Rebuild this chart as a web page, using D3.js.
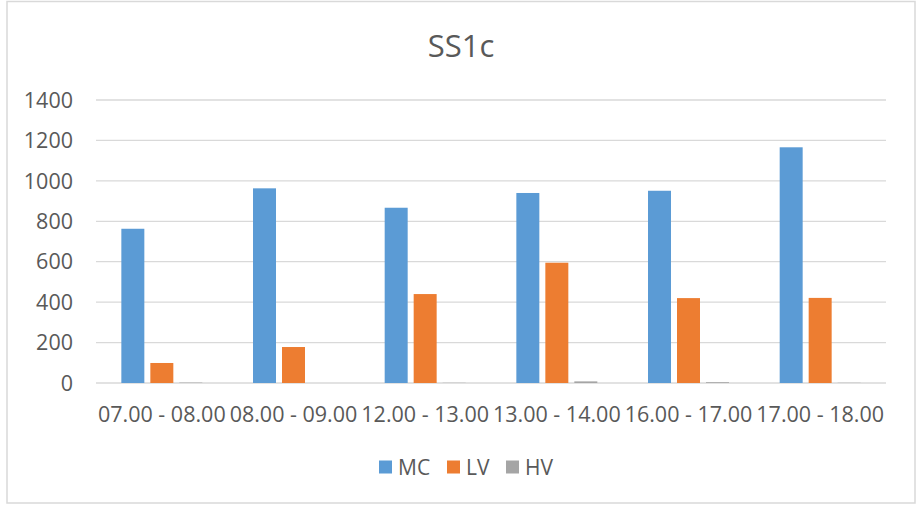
<!DOCTYPE html>
<html>
<head>
<meta charset="utf-8">
<script src="https://cdn.jsdelivr.net/npm/d3@7"></script>
<style>
  body { margin: 0; background: #fff; }
  text { font-family: "Open Sans", sans-serif; fill: #595959; }
</style>
</head>
<body>
<div id="chart"></div>
<script>
var categories = ["07.00 - 08.00", "08.00 - 09.00", "12.00 - 13.00", "13.00 - 14.00", "16.00 - 17.00", "17.00 - 18.00"];
var seriesNames = ["MC", "LV", "HV"];
var mcValues = [763, 963, 867, 940, 951, 1166];
var lvValues = [99, 178, 440, 595, 420, 421];
var hvValues = [2, 0, 1, 8, 4, 1];
var yTicks = [0, 200, 400, 600, 800, 1000, 1200, 1400];
var colors = ["#5b9bd5", "#ed7d31", "#a5a5a5"];

var width = 922, height = 510;
var values = [mcValues, lvValues, hvValues];

var svg = d3.select("#chart").append("svg")
  .attr("width", width)
  .attr("height", height);

// outer chart border
svg.append("rect")
  .attr("x", 7).attr("y", 1.5)
  .attr("width", 908).attr("height", 501.5)
  .attr("fill", "#fff")
  .attr("stroke", "#d9d9d9")
  .attr("stroke-width", 1.5);

var x = d3.scaleBand()
  .domain(categories)
  .range([96, 886])
  .paddingInner(0.385)
  .paddingOuter(0.1925);

var xSub = d3.scaleBand()
  .domain(seriesNames)
  .range([0, x.bandwidth()])
  .paddingInner(0.207)
  .paddingOuter(0);

var y = d3.scaleLinear()
  .domain([0, 1400])
  .range([383, 100]);

// gridlines
svg.append("g")
  .selectAll("line")
  .data(yTicks)
  .enter().append("line")
    .attr("x1", 96).attr("x2", 886)
    .attr("y1", function(d) { return y(d); })
    .attr("y2", function(d) { return y(d); })
    .attr("stroke", "#d9d9d9")
    .attr("stroke-width", 1.3);

// y labels
svg.append("g")
  .selectAll("text")
  .data(yTicks)
  .enter().append("text")
    .attr("x", 73)
    .attr("y", function(d) { return y(d); })
    .attr("dy", "0.36em")
    .attr("text-anchor", "end")
    .style("font-size", "21.5px")
    .text(function(d) { return d; });

// bars
var group = svg.append("g")
  .selectAll("g")
  .data(categories)
  .enter().append("g")
    .attr("transform", function(d) { return "translate(" + x(d) + ",0)"; });

group.selectAll("rect")
  .data(function(d, i) {
    return seriesNames.map(function(s, j) { return {series: s, value: values[j][i], idx: j}; });
  })
  .enter().append("rect")
    .attr("x", function(d) { return xSub(d.series); })
    .attr("width", xSub.bandwidth())
    .attr("y", function(d) { return y(d.value); })
    .attr("height", function(d) { return y(0) - y(d.value); })
    .attr("fill", function(d) { return colors[d.idx]; });

// x labels
svg.append("g")
  .selectAll("text")
  .data(categories)
  .enter().append("text")
    .attr("x", function(d) { return x(d) + x.bandwidth() / 2; })
    .attr("y", 421.5)
    .attr("text-anchor", "middle")
    .style("font-size", "21.5px")
    .text(function(d) { return d; });

// title
svg.append("text")
  .attr("x", 461)
  .attr("y", 57)
  .attr("text-anchor", "middle")
  .style("font-size", "31px")
  .text("SS1c");

// legend
var legendX = [379, 447, 506];
var legend = svg.append("g")
  .selectAll("g")
  .data(seriesNames)
  .enter().append("g")
    .attr("transform", function(d, i) { return "translate(" + legendX[i] + ",460.5)"; });

legend.append("rect")
  .attr("width", 13).attr("height", 13)
  .attr("fill", function(d, i) { return colors[i]; });

legend.append("text")
  .attr("x", 19)
  .attr("y", 14)
  .style("font-size", "21px")
  .text(function(d) { return d; });
</script>
</body>
</html>
